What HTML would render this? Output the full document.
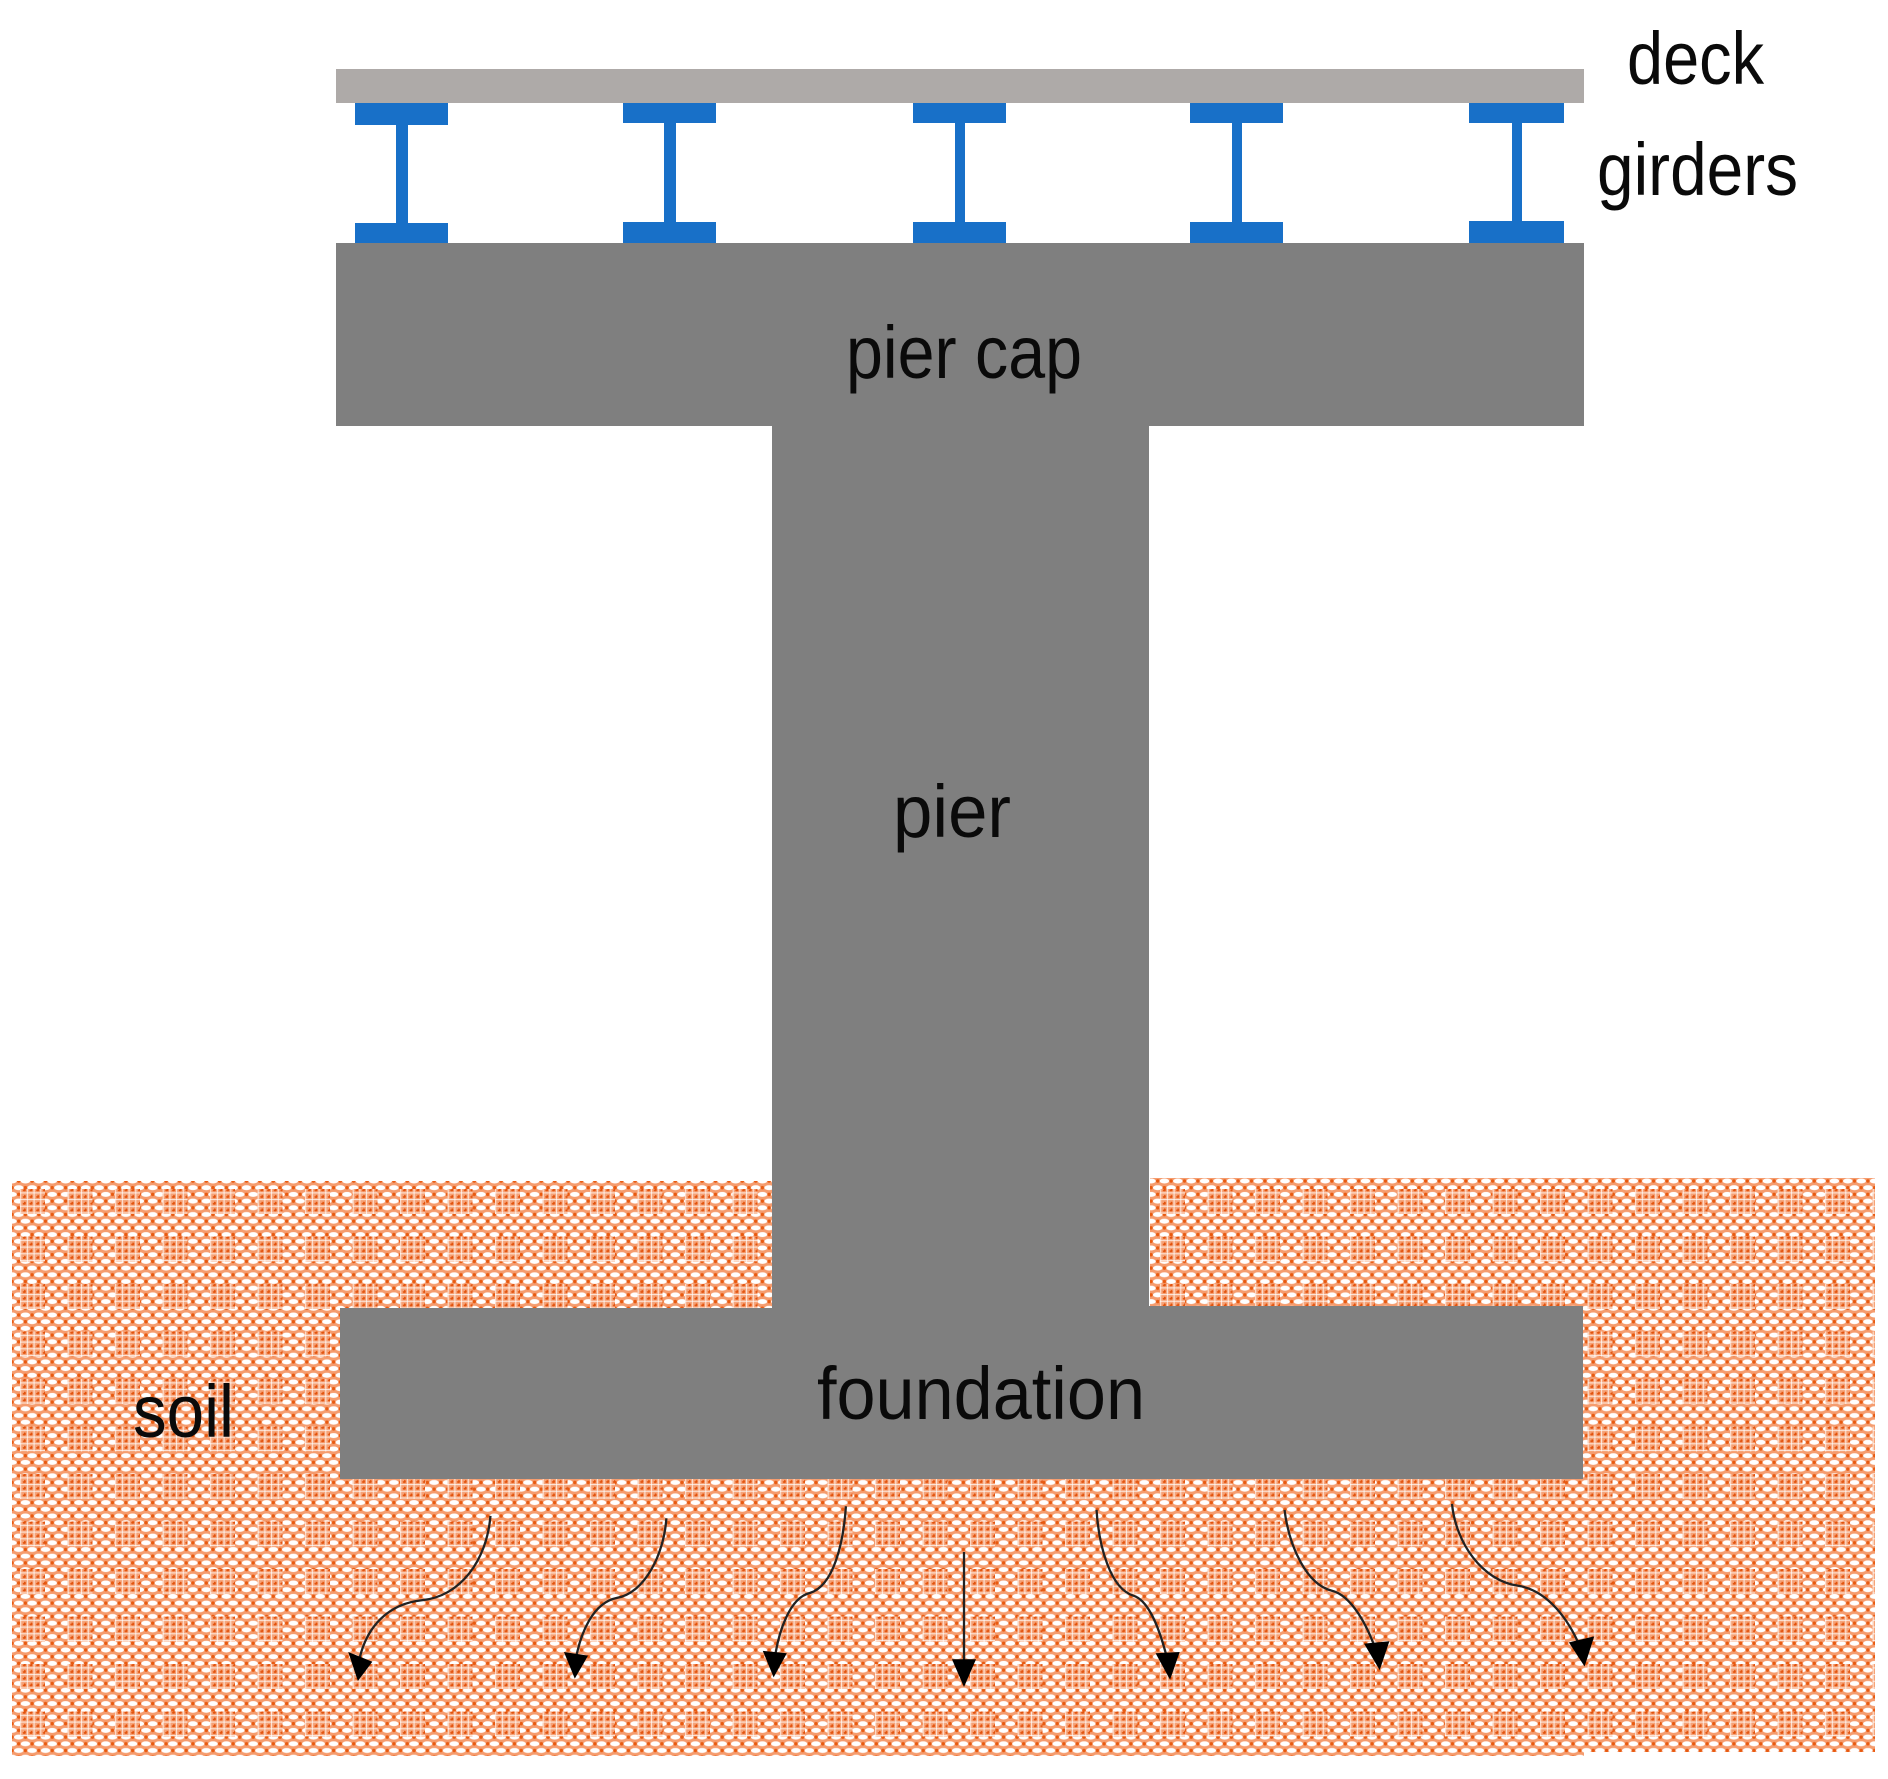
<!DOCTYPE html>
<html><head><meta charset="utf-8"><style>html,body{margin:0;padding:0;background:#fff}svg{display:block}text{font-family:"Liberation Sans",sans-serif;fill:#0a0a0a}</style></head>
<body>
<svg width="1888" height="1779" viewBox="0 0 1888 1779" xmlns="http://www.w3.org/2000/svg">
<defs>
<pattern id="w" x="12" y="1181" width="13.4" height="13.4" patternUnits="userSpaceOnUse">
<rect width="13.4" height="13.4" fill="#f59c6e"/>
<ellipse cx="0" cy="0" rx="4.8" ry="2.5" fill="#fff"/><ellipse cx="13.4" cy="0" rx="4.8" ry="2.5" fill="#fff"/>
<ellipse cx="0" cy="13.4" rx="4.8" ry="2.5" fill="#fff"/><ellipse cx="13.4" cy="13.4" rx="4.8" ry="2.5" fill="#fff"/>
<ellipse cx="6.7" cy="6.7" rx="4.8" ry="2.5" fill="#fff"/>
<circle cx="6.7" cy="0" r="1.7" fill="#e85a10"/><circle cx="6.7" cy="13.4" r="1.7" fill="#e85a10"/>
<circle cx="0" cy="6.7" r="1.7" fill="#e85a10"/><circle cx="13.4" cy="6.7" r="1.7" fill="#e85a10"/>
</pattern>
<pattern id="f" x="12" y="1181" width="6.7" height="6.7" patternUnits="userSpaceOnUse">
<rect width="6.7" height="6.7" fill="#f6a277"/>
<rect x="2.9" y="0" width="1" height="6.7" fill="#fff" opacity=".75"/>
<rect x="0" y="2.9" width="6.7" height="1" fill="#fff" opacity=".75"/>
<circle cx="0.6" cy="0.6" r="1.2" fill="#e2530e"/><circle cx="6.7" cy="0.6" r="1.2" fill="#e2530e"/><circle cx="0.6" cy="6.7" r="1.2" fill="#e2530e"/>
</pattern>
<pattern id="m" x="12" y="1181" width="47.5" height="47.5" patternUnits="userSpaceOnUse">
<rect x="8" y="8" width="25" height="25" fill="url(#f)"/>
</pattern>
</defs>
<rect x="12" y="1181" width="800" height="575" fill="url(#w)"/>
<rect x="12" y="1181" width="800" height="575" fill="url(#m)"/>
<rect x="1150" y="1178" width="725" height="574" fill="url(#w)"/>
<rect x="1150" y="1178" width="725" height="574" fill="url(#m)"/>
<rect x="800" y="1320" width="784" height="436" fill="url(#w)"/>
<rect x="800" y="1320" width="784" height="436" fill="url(#m)"/>

<rect x="336" y="69" width="1248" height="34" fill="#aeaaa8"/>
<g fill="#1870c8">
<rect x="355" y="103" width="93" height="22"/><rect x="396" y="125" width="12" height="100"/><rect x="355" y="223" width="93" height="20"/>
<rect x="623" y="103" width="93" height="20"/><rect x="664" y="123" width="12" height="100"/><rect x="623" y="222" width="93" height="21"/>
<rect x="913" y="103" width="93" height="20"/><rect x="955" y="123" width="10" height="100"/><rect x="913" y="222" width="93" height="21"/>
<rect x="1190" y="103" width="93" height="20"/><rect x="1232" y="123" width="10" height="100"/><rect x="1190" y="222" width="93" height="21"/>
<rect x="1469" y="103" width="95" height="20"/><rect x="1512" y="123" width="10" height="100"/><rect x="1469" y="221" width="95" height="22"/>
</g>
<path d="M336 243H1584V426H1149V1306H1583V1479H340V1308H772V426H336Z" fill="#7f7f7f"/>

<g transform="scale(1.205)" fill="none" stroke="#222" stroke-width="1.9">
<path d="M407 1258C404 1295 382 1325 350 1328C322 1331 304 1350 298 1378"/>
<path d="M553 1260C551 1290 535 1322 512 1326C492 1330 482 1355 478 1376"/>
<path d="M702 1250C700 1280 692 1316 672 1322C655 1326 646 1355 643 1376"/>
<path d="M800 1288V1385"/>
<path d="M910 1253C912 1285 922 1318 940 1324C955 1328 964 1358 969 1378"/>
<path d="M1066 1253C1070 1285 1085 1315 1105 1320C1122 1324 1135 1350 1142 1370"/>
<path d="M1205 1248C1208 1280 1230 1312 1260 1316C1285 1320 1302 1345 1311 1366"/>
</g>
<g transform="scale(1.205)" fill="#000">
<polygon points="289,1371 309,1379 297,1395"/>
<polygon points="468,1371 488,1374 477,1393"/>
<polygon points="633,1370 653,1372 642,1392"/>
<polygon points="790,1377 810,1377 800,1400"/>
<polygon points="959,1372 979,1371 971,1394"/>
<polygon points="1132,1364 1153,1362 1145,1386"/>
<polygon points="1302,1363 1323,1358 1315,1383"/>
</g>

<text x="1627" y="84" font-size="74" textLength="137" lengthAdjust="spacingAndGlyphs">deck</text>
<text x="1597" y="195" font-size="74" textLength="201" lengthAdjust="spacingAndGlyphs">girders</text>
<text x="846" y="378" font-size="74" textLength="236" lengthAdjust="spacingAndGlyphs">pier cap</text>
<text x="893" y="837" font-size="74" textLength="118" lengthAdjust="spacingAndGlyphs">pier</text>
<text x="817" y="1419" font-size="74" textLength="328" lengthAdjust="spacingAndGlyphs">foundation</text>
<text x="133" y="1437" font-size="74" textLength="101" lengthAdjust="spacingAndGlyphs">soil</text>
</svg>
</body></html>
